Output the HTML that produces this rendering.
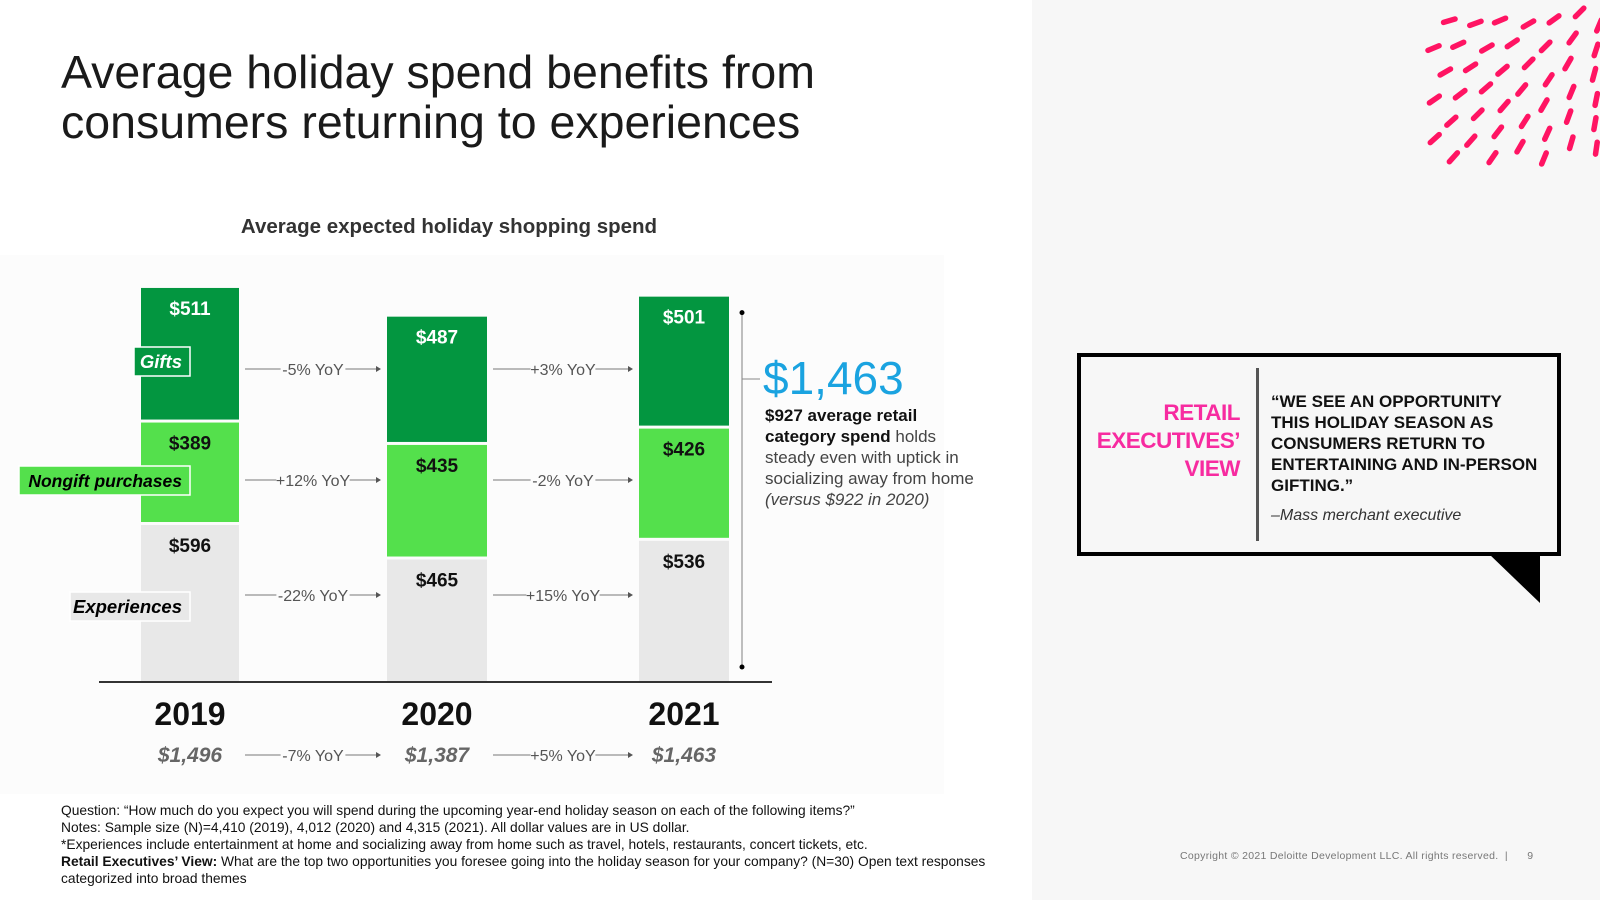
<!DOCTYPE html>
<html><head><meta charset="utf-8"><style>
*{margin:0;padding:0;box-sizing:border-box}
body{width:1600px;height:900px;position:relative;overflow:hidden;background:#fff;font-family:"Liberation Sans",sans-serif;color:#000}
.abs{position:absolute;white-space:nowrap}
</style></head><body>
<div class="abs" style="left:1032px;top:0;width:568px;height:900px;background:#f7f7f7"></div>
<div class="abs" style="left:0;top:255px;width:944px;height:539px;background:#fcfcfc"></div>
<svg id="deco" class="abs" style="left:1032px;top:0" width="568" height="200"></svg>
<div class="abs" style="left:61px;top:47px;font-size:46.5px;line-height:50px;color:#1a1a1a;letter-spacing:0px">Average holiday spend benefits from<br>consumers returning to experiences</div>
<div class="abs" style="left:449px;top:215px;transform:translateX(-50%);font-size:20.5px;font-weight:bold;color:#333">Average expected holiday shopping spend</div>
<svg id="chart" class="abs" style="left:0;top:0" width="1000" height="800"></svg>
<div class="abs" style="left:763px;top:350px;font-size:46px;color:#1aa3e0;line-height:56px">$1,463</div>
<div class="abs" style="left:765px;top:405px;font-size:17px;line-height:21px;color:#444">
<b style="color:#111">$927 average retail</b><br><b style="color:#111">category spend</b> holds<br>steady even with uptick in<br>socializing away from home<br><i>(versus $922 in 2020)</i></div>
<div class="abs" style="left:1077px;top:353px;width:484px;height:203px;border:4px solid #000;background:#f7f7f7"></div>
<svg class="abs" style="left:1486px;top:553px" width="56" height="52"><polygon points="2,0 54,0 54,50" fill="#000"/></svg>
<div class="abs" style="left:1080px;top:399px;width:160px;text-align:right;font-size:22.5px;line-height:28px;font-weight:bold;color:#f72ba0;letter-spacing:-0.5px;white-space:normal">RETAIL EXECUTIVES’ VIEW</div>
<div class="abs" style="left:1256px;top:368px;width:3px;height:173px;background:#555"></div>
<div class="abs" style="left:1271px;top:391px;font-size:17px;line-height:21px;font-weight:bold;color:#111">“WE SEE AN OPPORTUNITY<br>THIS HOLIDAY SEASON AS<br>CONSUMERS RETURN TO<br>ENTERTAINING AND IN-PERSON<br>GIFTING.”</div>
<div class="abs" style="left:1271px;top:507px;font-size:16px;font-style:italic;color:#333">–Mass merchant executive</div>
<div class="abs" style="left:61px;top:802px;font-size:13.8px;line-height:17px;color:#111">Question: “How much do you expect you will spend during the upcoming year-end holiday season on each of the following items?”<br>Notes: Sample size (N)=4,410 (2019), 4,012 (2020) and 4,315 (2021). All dollar values are in US dollar.<br>*Experiences include entertainment at home and socializing away from home such as travel, hotels, restaurants, concert tickets, etc.<br><b>Retail Executives’ View:</b> What are the top two opportunities you foresee going into the holiday season for your company? (N=30) Open text responses<br>categorized into broad themes</div>
<div class="abs" style="left:1180px;top:850px;font-size:10.5px;letter-spacing:0.3px;color:#777">Copyright © 2021 Deloitte Development LLC. All rights reserved. &nbsp;| &nbsp;&nbsp;&nbsp;&nbsp;&nbsp;9</div>
<script>
const years=["2019","2020","2021"];
const experiences=[596,465,536];
const nongift=[389,435,426];
const gifts=[511,487,501];
const totals=["$1,496","$1,387","$1,463"];
const yoyGifts=["-5% YoY","+3% YoY"];
const yoyNongift=["+12% YoY","-2% YoY"];
const yoyExp=["-22% YoY","+15% YoY"];
const yoyTotal=["-7% YoY","+5% YoY"];
const NS="http://www.w3.org/2000/svg";
const svg=document.getElementById('chart');
const base=682, k=0.2634;
const barX=[141,387,639], barW=[98,100,90];
const y=v=>base-v*k;
function mk(t,a,p){const e=document.createElementNS(NS,t);for(const n in a)e.setAttribute(n,a[n]);if(t==='text'&&a._t!==undefined){e.textContent=a._t;e.removeAttribute('_t');}(p||svg).appendChild(e);return e;}
const series=[[experiences,'#e8e8e8','#111','experiences'],[nongift,'#54e04c','#111','nongift'],[gifts,'#039640','#fff','gifts']];
years.forEach((yr,i)=>{
  let cum=0;
  series.forEach(([arr,col,tc,nm])=>{
    const top=y(cum+arr[i]), bot=y(cum);
    const r=mk('rect',{x:barX[i],y:top,width:barW[i],height:Math.max(0,bot-top-3),fill:col});
    
    
    if(cum===0) r.setAttribute('height',bot-top);
    const t=mk('text',{x:barX[i]+barW[i]/2,y:top+27,'text-anchor':'middle','font-size':19,'font-weight':'bold',fill:tc,_t:'$'+arr[i]});
    
    
    cum+=arr[i];
  });
  const yl=mk('text',{x:barX[i]+barW[i]/2,y:725,'text-anchor':'middle','font-size':32,'font-weight':'bold',fill:'#111',_t:yr});
  
  
  const tl=mk('text',{x:barX[i]+barW[i]/2,y:762,'text-anchor':'middle','font-size':21,'font-weight':'bold','font-style':'italic',fill:'#666',_t:totals[i]});
  
  
});
const ax=mk('line',{x1:99,y1:base,x2:772,y2:base,stroke:'#333','stroke-width':2});


function arrow(x1,x2,yy,label,nm){
  const g=mk('g',{});
  
  
  mk('line',{x1:x1,y1:yy,x2:x2-4,y2:yy,stroke:'#777','stroke-width':1},g);
  mk('polygon',{points:`${x2},${yy} ${x2-5},${yy-3} ${x2-5},${yy+3}`,fill:'#555'},g);
  const w=label.length*8.4+6, cx=(x1+x2)/2;
  mk('rect',{x:cx-w/2,y:yy-10,width:w,height:20,fill:'#fcfcfc'},g);
  mk('text',{x:cx,y:yy+6,'text-anchor':'middle','font-size':16,fill:'#555',_t:label},g);
}
for(let j=0;j<2;j++){
  const x1=barX[j]+barW[j]+6, x2=barX[j+1]-6;
  arrow(x1,x2,369,yoyGifts[j],'yoy-gifts-'+j);
  arrow(x1,x2,480,yoyNongift[j],'yoy-nongift-'+j);
  arrow(x1,x2,595,yoyExp[j],'yoy-experiences-'+j);
  arrow(x1,x2,755,yoyTotal[j],'yoy-total-'+j);
}
function legend(x,yy,w,txt,bg,tc,nm,fs){
  const g=mk('g',{});
  
  
  mk('rect',{x:x,y:yy,width:w,height:29,fill:bg,stroke:'#fff','stroke-width':1.5},g);
  mk('text',{x:x+w-8,y:yy+21,'text-anchor':'end','font-size':fs,'font-weight':'bold','font-style':'italic',fill:tc,_t:txt},g);
}
legend(134,347,56,'Gifts','#039640','#fff','legend-gifts',18.5);
legend(19,466,171,'Nongift purchases','#54e04c','#000','legend-nongift',17.5);
legend(70,592,120,'Experiences','#e8e8e8','#000','legend-experiences',18.5);
const tot=experiences[2]+nongift[2]+gifts[2];
const br=mk('g',{});


mk('line',{x1:742,y1:y(tot)+16,x2:742,y2:base-15,stroke:'#aaa','stroke-width':1.5},br);
mk('circle',{cx:742,cy:y(tot)+16,r:2.5,fill:'#000'},br);
mk('circle',{cx:742,cy:base-15,r:2.5,fill:'#000'},br);
mk('line',{x1:742,y1:379,x2:760,y2:379,stroke:'#888','stroke-width':1},br);
const d=document.getElementById('deco');
const cx=590, cy=-30;
for(let r=60;r<=260;r+=24){
  const n=Math.round(r/17);
  for(let m=0;m<=n;m++){
    const a=Math.PI/2+ (Math.PI/2)*m/n;
    const x=cx+r*Math.cos(a), yy=cy+r*Math.sin(a);
    const L=6;
    const dx=Math.cos(a)*L, dy=Math.sin(a)*L;
    if(x<400||yy<3||yy>165)continue;
    const l=document.createElementNS(NS,'line');
    l.setAttribute('x1',x-dx);l.setAttribute('y1',yy-dy);l.setAttribute('x2',x+dx);l.setAttribute('y2',yy+dy);
    l.setAttribute('stroke','#ff1463');l.setAttribute('stroke-width',5.5);l.setAttribute('stroke-linecap','round');
    
    
    d.appendChild(l);
  }
}
</script>
</body></html>
